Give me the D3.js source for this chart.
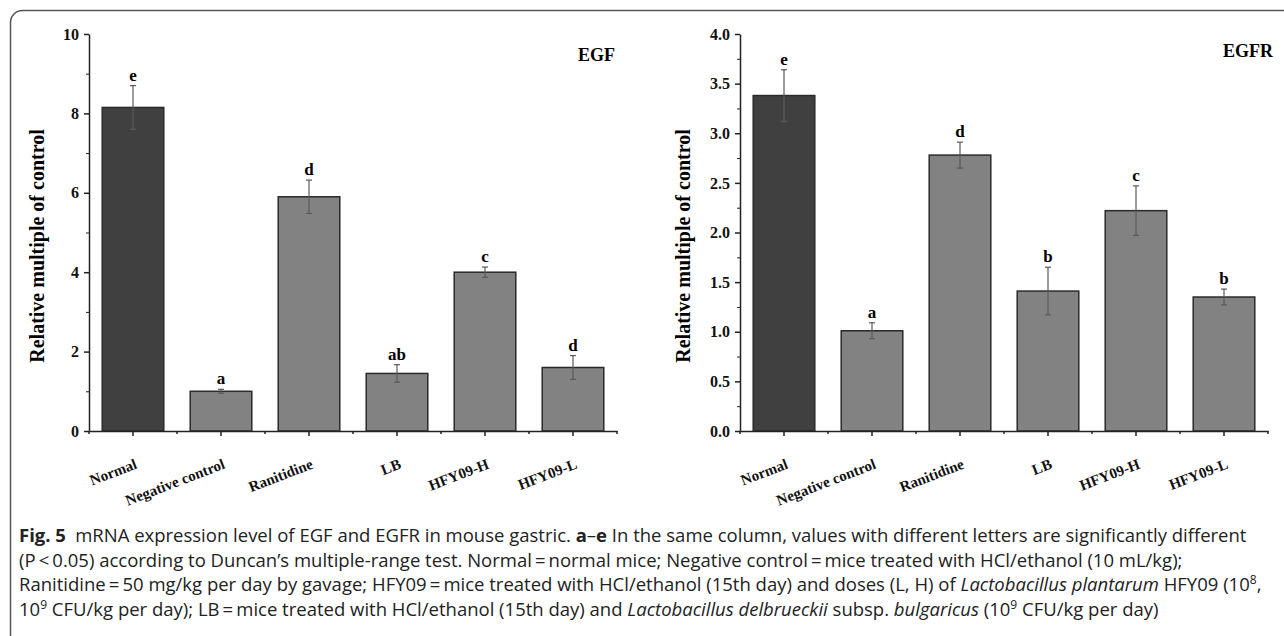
<!DOCTYPE html>
<html lang="en">
<head>
    <title>Fig. 5 EGF and EGFR</title>
    <meta charset="utf-8">
    <script src="https://d3js.org/d3.v7.min.js"></script>
    <style>
        body { margin: 0; background: #fff; }
    </style>
</head>
<body>
<div id="figure"></div>
<script>
    // groups on the x axis (same for both panels)
    const groups = ["Normal", "Negative control", "Ranitidine", "LB", "HFY09-H", "HFY09-L"];

    // EGF panel
    const egfMeans = [8.15, 1.0, 5.9, 1.45, 4.0, 1.6];
    const egfErrors = [0.55, 0.05, 0.42, 0.22, 0.13, 0.3];
    const egfLetters = ["e", "a", "d", "ab", "c", "d"];
    const egfTicks = [0, 2, 4, 6, 8, 10];
    const egfMinorTicks = [1, 3, 5, 7, 9];

    // EGFR panel
    const egfrMeans = [3.38, 1.01, 2.78, 1.41, 2.22, 1.35];
    const egfrErrors = [0.26, 0.08, 0.13, 0.24, 0.25, 0.08];
    const egfrLetters = ["e", "a", "d", "b", "c", "b"];
    const egfrTicks = [0, 0.5, 1.0, 1.5, 2.0, 2.5, 3.0, 3.5, 4.0];
    const egfrMinorTicks = [0.25, 0.75, 1.25, 1.75, 2.25, 2.75, 3.25, 3.75];

    const W = 1284, H = 636;
    const serif = "'Liberation Serif', 'Times New Roman', serif";

    const svg = d3.select("#figure")
        .append("svg")
        .attr("width", W)
        .attr("height", H);

    // rounded frame, cut off at right and bottom like the source page
    svg.append("rect")
        .attr("x", 10.5).attr("y", 10.5)
        .attr("width", 1400).attr("height", 800)
        .attr("rx", 12)
        .attr("fill", "none")
        .attr("stroke", "#555")
        .attr("stroke-width", 1.5);

    drawPanel({
        left: 89, right: 617, top: 34, bottom: 431, max: 10,
        ticks: egfTicks, minor: egfMinorTicks, fmt: d3.format("d"),
        means: egfMeans, errors: egfErrors, letters: egfLetters,
        name: "EGF", nameX: 615, nameY: 61, titleX: 37
    });

    drawPanel({
        left: 740, right: 1268, top: 34, bottom: 431, max: 4,
        ticks: egfrTicks, minor: egfrMinorTicks, fmt: d3.format(".1f"),
        means: egfrMeans, errors: egfrErrors, letters: egfrLetters,
        name: "EGFR", nameX: 1273, nameY: 57, titleX: 683
    });

    drawCaption();

    /**
     * One bar panel with error bars and significance letters.
     */
    function drawPanel(o) {
        const g = svg.append("g");

        const x = d3.scaleBand()
            .domain(groups)
            .range([o.left, o.right])
            .paddingInner(0.3)
            .paddingOuter(0.15);

        const y = d3.scaleLinear()
            .domain([0, o.max])
            .range([o.bottom, o.top]);

        // bars
        g.selectAll("rect.bar")
            .data(groups)
            .join("rect")
            .attr("class", "bar")
            .attr("x", d => x(d))
            .attr("y", (d, i) => y(o.means[i]))
            .attr("width", x.bandwidth())
            .attr("height", (d, i) => y(0) - y(o.means[i]))
            .attr("fill", (d, i) => i === 0 ? "#404040" : "#828282")
            .attr("stroke", "#2b2b2b")
            .attr("stroke-width", 1.5);

        // error bars
        const err = g.selectAll("g.err")
            .data(groups)
            .join("g")
            .attr("class", "err")
            .attr("stroke", "#5a5a5a")
            .attr("stroke-width", 1.2);

        const cx = d => x(d) + x.bandwidth() / 2;

        err.append("line")
            .attr("x1", cx).attr("x2", cx)
            .attr("y1", (d, i) => y(o.means[i] + o.errors[i]))
            .attr("y2", (d, i) => y(o.means[i] - o.errors[i]));
        err.append("line")
            .attr("x1", d => cx(d) - 3).attr("x2", d => cx(d) + 3)
            .attr("y1", (d, i) => y(o.means[i] + o.errors[i]))
            .attr("y2", (d, i) => y(o.means[i] + o.errors[i]));
        err.append("line")
            .attr("x1", d => cx(d) - 3).attr("x2", d => cx(d) + 3)
            .attr("y1", (d, i) => y(o.means[i] - o.errors[i]))
            .attr("y2", (d, i) => y(o.means[i] - o.errors[i]));

        // significance letters
        g.selectAll("text.letter")
            .data(groups)
            .join("text")
            .attr("class", "letter")
            .attr("x", cx)
            .attr("y", (d, i) => y(o.means[i] + o.errors[i]) - 5)
            .attr("text-anchor", "middle")
            .style("font-family", serif)
            .style("font-weight", "bold")
            .style("font-size", "17px")
            .text((d, i) => o.letters[i]);

        // y axis, major and minor ticks
        const yAxis = g.append("g")
            .attr("transform", `translate(${o.left},0)`)
            .call(d3.axisLeft(y).tickValues(o.ticks).tickFormat(o.fmt)
                .tickSize(5).tickSizeOuter(0).tickPadding(5));
        g.append("g")
            .attr("transform", `translate(${o.left},0)`)
            .call(d3.axisLeft(y).tickValues(o.minor).tickFormat("")
                .tickSize(3).tickSizeOuter(0))
            .select(".domain").remove();

        // x axis: ticks under bar centres, text rotated
        const xAxis = g.append("g")
            .attr("transform", `translate(0,${o.bottom})`)
            .call(d3.axisBottom(x).tickSize(5).tickSizeOuter(0));
        xAxis.selectAll(".tick text")
            .attr("y", 0).attr("dy", 0)
            .attr("text-anchor", "end")
            .attr("transform", "translate(5,37) rotate(-21)")
            .style("font-size", "15px");

        // small ticks on band boundaries
        g.append("g")
            .selectAll("line")
            .data(d3.range(groups.length + 1))
            .join("line")
            .attr("x1", k => o.left + k * x.step())
            .attr("x2", k => o.left + k * x.step())
            .attr("y1", o.bottom)
            .attr("y2", o.bottom + 3)
            .attr("stroke", "#222")
            .attr("stroke-width", 1.5);

        [yAxis, xAxis].forEach(a => {
            a.selectAll(".domain, line").attr("stroke", "#222").attr("stroke-width", 1.5);
            a.selectAll("text")
                .attr("fill", "#111")
                .style("font-family", serif)
                .style("font-weight", "bold");
        });
        yAxis.selectAll("text").style("font-size", "16px");
        g.selectAll(".tick line").attr("stroke", "#222");

        // axis title
        g.append("text")
            .attr("transform", `translate(${o.titleX},${246}) rotate(-90)`)
            .attr("text-anchor", "middle")
            .attr("dy", "0.35em")
            .style("font-family", serif)
            .style("font-weight", "bold")
            .style("font-size", "20px")
            .text("Relative multiple of control");

        // panel name
        g.append("text")
            .attr("x", o.nameX)
            .attr("y", o.nameY)
            .attr("text-anchor", "end")
            .style("font-family", serif)
            .style("font-weight", "bold")
            .style("font-size", "18px")
            .text(o.name);
    }

    /**
     * Figure caption under both panels.
     */
    function drawCaption() {
        const lines = [
            [["Fig. 5", "b"], ["\u2002mRNA expression level of EGF and EGFR in mouse gastric. "], ["a", "b"], ["\u2013"], ["e", "b"],
                [" In the same column, values with different letters are significantly different"]],
            [["(P\u2009<\u20090.05) according to Duncan\u2019s multiple-range test. Normal\u2009=\u2009normal mice; Negative control\u2009=\u2009mice treated with HCl/ethanol (10 mL/kg);"]],
            [["Ranitidine\u2009=\u200950 mg/kg per day by gavage; HFY09\u2009=\u2009mice treated with HCl/ethanol (15th day) and doses (L, H) of "],
                ["Lactobacillus plantarum", "i"], [" HFY09 (10"], ["8", "sup"], [","]],
            [["10"], ["9", "sup"], [" CFU/kg per day); LB\u2009=\u2009mice treated with HCl/ethanol (15th day) and "],
                ["Lactobacillus delbrueckii", "i"], [" subsp. "], ["bulgaricus", "i"], [" (10"], ["9", "sup"], [" CFU/kg per day)"]]
        ];
        const baselines = [542, 566.5, 591, 615.5];

        const cap = svg.append("g")
            .style("font-family", "'Open Sans', 'Noto Sans', sans-serif")
            .style("font-size", "18.5px")
            .attr("fill", "#222");

        lines.forEach((parts, li) => {
            const t = cap.append("text")
                .attr("x", 19)
                .attr("y", baselines[li]);
            let raised = false;
            parts.forEach(([str, kind]) => {
                const s = t.append("tspan").text(str);
                if (kind === "b") s.style("font-weight", "bold");
                if (kind === "i") s.style("font-style", "italic");
                if (kind === "sup") {
                    s.attr("dy", -7).style("font-size", "12px");
                    raised = true;
                } else if (raised) {
                    // back to the baseline after a superscript
                    s.attr("dy", 7);
                    raised = false;
                }
            });
        });
    }
</script>
</body>
</html>
